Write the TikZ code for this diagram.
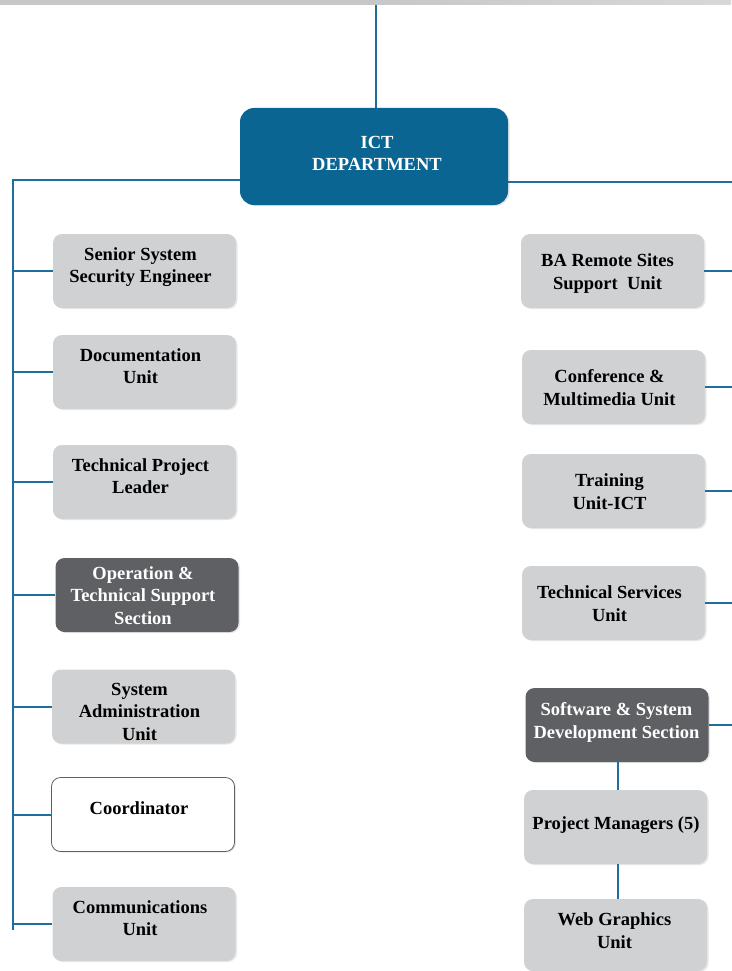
\documentclass[tikz,border=0pt]{standalone}
\usepackage{fontspec}
\setmainfont{Liberation Serif}
\usetikzlibrary{shadows}
\definecolor{lineblue}{HTML}{1F6E9C}
\definecolor{ictblue}{HTML}{0B6593}
\definecolor{boxgray}{HTML}{D0D1D3}
\definecolor{darkbox}{HTML}{5F6063}
\definecolor{bargray}{HTML}{C6C7C9}
\newcommand{\bxt}[3][8pt]{\raisebox{\dimexpr#2-4.6pt\relax}[0pt][0pt]{\begin{tabular}{@{}c@{}}#3\end{tabular}}\hspace{#1}}
\tikzset{
  conn/.style={draw=lineblue, line width=2pt},
  unitbox/.style={rounded corners=9pt, minimum width=183pt, minimum height=74pt,
    align=center, font=\fontsize{18.5}{22.5}\selectfont\bfseries, inner sep=0pt,
    drop shadow={shadow xshift=1.5pt, shadow yshift=-1pt, opacity=0.18}},
  graybox/.style={unitbox, fill=boxgray, text=black},
  darkunit/.style={unitbox, fill=darkbox, text=white},
  whitebox/.style={unitbox, fill=white, draw=darkbox, line width=0.8pt, text=black},
  ictbox/.style={rounded corners=14pt, fill=ictblue, text=white, minimum width=268pt,
    minimum height=97pt, align=center, font=\fontsize{18.5}{22.5}\selectfont\bfseries,
    inner sep=0pt, drop shadow={shadow xshift=1.5pt, shadow yshift=-1pt, opacity=0.2}}
}
\begin{document}
\begin{tikzpicture}[x=1pt,y=-1pt]
\useasboundingbox (0,0) rectangle (731,971);
\shade[left color=bargray, right color=bargray!70!white, middle color=bargray] (0,0) rectangle (731,5);

\coordinate (top) at (376,5);
\coordinate (lt) at (13,180);
\coordinate (lb) at (13,930);
\coordinate (rt) at (734,182);
\coordinate (rb) at (734,710);

\node[ictbox] (ict) at (374,156.5) {\hspace{6pt}\raisebox{\dimexpr2pt-4.6pt\relax}[0pt][0pt]{\begin{tabular}{@{}c@{}}ICT\\DEPARTMENT\end{tabular}}};

% left column
\node[graybox] (l1) at (144.5,271) {\bxt{4.5pt}{Senior System\\Security Engineer}};
\node[graybox] (l2) at (144.5,372) {\bxt{4.5pt}{Documentation\\Unit}};
\node[graybox] (l3) at (144.5,482) {\bxt{4.5pt}{Technical Project\\Leader}};
\node[darkunit] (l4) at (147,595) {\bxt{-2pt}{Operation \&\\Technical Support\\Section}};
\node[graybox] (l5) at (143.5,706.5) {\bxt{-6.5pt}{System\\Administration\\Unit}};
\node[whitebox] (l6) at (143,814.5) {\bxt{5pt}{Coordinator}};
\node[graybox] (l7) at (144,924) {\bxt{4.5pt}{Communications\\Unit}};

% right column
\node[graybox] (r1) at (612.5,271) {\bxt[10pt]{-2pt}{BA Remote Sites\\Support~~Unit}};
\node[graybox] (r2) at (613.5,387) {\bxt{-2pt}{Conference \&\\Multimedia Unit}};
\node[graybox] (r3) at (613.5,491) {\bxt{-2pt}{Training\\Unit-ICT}};
\node[graybox] (r4) at (613.5,603) {\bxt{-2pt}{Technical Services\\Unit}};
\node[darkunit] (r5) at (617,725) {\bxt[1pt]{3pt}{Software \& System\\Development Section}};
\node[graybox] (r6) at (615.5,827) {\bxt[-1pt]{2pt}{Project Managers (5)}};
\node[graybox, minimum height=72pt] (r7) at (615.5,935) {\bxt[2pt]{3pt}{Web Graphics\\Unit}};

% connectors
\draw[conn] (top) -- (ict.north -| top);
\draw[conn] ([yshift=-23.5pt]ict.west) -- (lt) -- (lb);
\draw[conn] ([yshift=-25.5pt]ict.east) -- (rt) -- (rb);
\foreach \n in {l1,l2,l3,l4,l5,l6,l7}{
  \draw[conn] (\n.west) -- (\n.west -| lt);
}
\foreach \n in {r1,r2,r3,r4,r5}{
  \draw[conn] (\n.east) -- (\n.east -| rt);
}
\draw[conn] (r5.south -| 618,0) -- (r6.north -| 618,0);
\draw[conn] (r6.south -| 618,0) -- (r7.north -| 618,0);
\end{tikzpicture}
\end{document}
